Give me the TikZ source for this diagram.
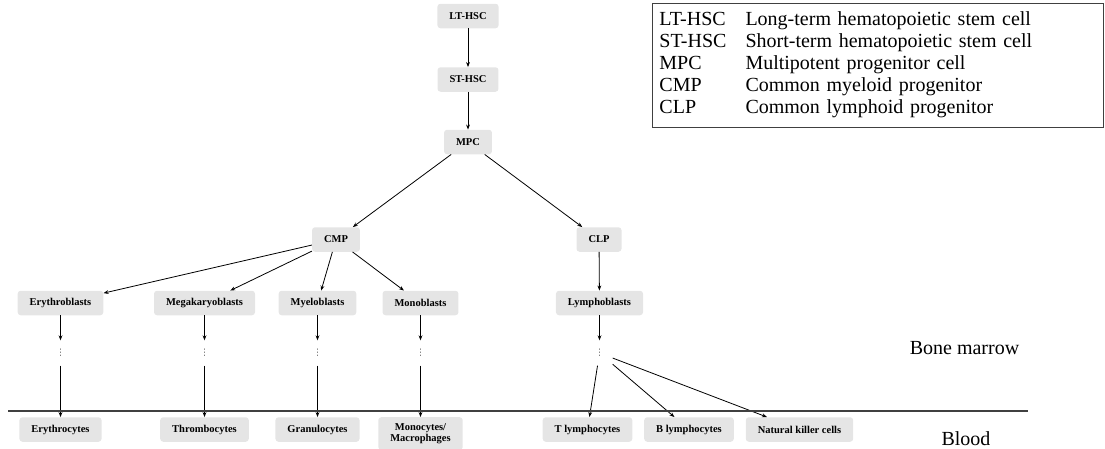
\documentclass[tikz,border=0pt]{standalone}
\usepackage{fontspec}
\setmainfont{Liberation Serif}
\newfontfamily\dejavu{DejaVu Sans}
\usetikzlibrary{arrows.meta}
\definecolor{boxgray}{RGB}{229,229,229}
\definecolor{sepline}{RGB}{64,64,64}
\definecolor{dotgray}{RGB}{90,90,90}
\newcommand{\myvdots}{{\dejavu ⋮}}
\begin{document}
\begin{tikzpicture}[x=1pt,y=-1pt,
  cell/.style={fill=boxgray,rounded corners=3pt,inner xsep=12pt,inner ysep=0pt,
    minimum height=24.5pt,font=\fontsize{10.5}{12}\selectfont\bfseries,align=center},
  dotsnode/.style={inner sep=0pt,minimum width=26pt,minimum height=25pt,
    font=\fontsize{9}{9}\selectfont,text=dotgray},
  conn/.style={draw=black,line width=0.8pt,-{Stealth[length=5pt,width=3.8pt]}},
  region/.style={font=\fontsize{20}{22}\selectfont,inner sep=0pt}]
\useasboundingbox (0,0) rectangle (1105,448);
% top chain
\node[cell] (lt) at (468,16) {LT-HSC};
\node[cell] (st) at (468,79.5) {ST-HSC};
\node[cell] (mpc) at (468,142) {MPC};
\node[cell] (cmp) at (336,239.5) {CMP};
\node[cell] (clp) at (599,239.5) {CLP};
% blasts
\node[cell] (ery) at (60.5,303) {Erythroblasts};
\node[cell] (meg) at (204.5,303) {Megakaryoblasts};
\node[cell] (mye) at (317.5,303) {Myeloblasts};
\node[cell] (mon) at (420.5,303) {Monoblasts};
\node[cell] (lym) at (599.5,303) {Lymphoblasts};
% dots
\node[dotsnode] (d1) at (60.5,353) {\myvdots};
\node[dotsnode] (d2) at (204.5,353) {\myvdots};
\node[dotsnode] (d3) at (317.5,353) {\myvdots};
\node[dotsnode] (d4) at (420.5,353) {\myvdots};
\node[dotsnode] (d5) at (599.5,353) {\myvdots};
% mature cells
\node[cell] (eryc) at (60.5,429.5) {Erythrocytes};
\node[cell] (thr) at (204.5,429.5) {Thrombocytes};
\node[cell] (gra) at (317.5,429.5) {Granulocytes};
\node[cell,anchor=north,inner ysep=6pt,font=\fontsize{10.5}{11.5}\selectfont\bfseries] (mac) at (420.5,417) {Monocytes/\\Macrophages};
\node[cell] (tly) at (587.5,429.5) {T lymphocytes};
\node[cell] (bly) at (689,429.5) {B lymphocytes};
\node[cell] (nk) at (799.5,429.5) {Natural killer cells};
% connectors
\draw[conn] (lt) -- (st);
\draw[conn] (st) -- (mpc);
\draw[conn] (mpc) -- (cmp);
\draw[conn] (mpc) -- (clp);
\draw[conn] (cmp) -- (ery);
\draw[conn] (cmp) -- (meg);
\draw[conn] (cmp) -- (mye);
\draw[conn] (cmp) -- (mon);
\draw[conn] (clp) -- (lym);
\draw[conn] (ery) -- (d1);
\draw[conn] (meg) -- (d2);
\draw[conn] (mye) -- (d3);
\draw[conn] (mon) -- (d4);
\draw[conn] (lym) -- (d5);
\draw[conn] (d1) -- (eryc);
\draw[conn] (d2) -- (thr);
\draw[conn] (d3) -- (gra);
\draw[conn] (d4) -- (mac);
\draw[conn] (d5) -- (tly);
\draw[conn] (d5) -- (bly);
\draw[conn] (d5) -- (nk);
% separator
\coordinate (hl) at (8,411);
\coordinate (hr) at (1028,411);
\draw[sepline,line width=1.1pt] (hl) -- (hr);
\node[region,anchor=base] (bm) at (964.5,354) {Bone marrow};
\node[region,anchor=base] (bl) at (966,445) {Blood};
% legend
\node[draw=sepline,line width=0.9pt,anchor=north west,inner xsep=7pt,inner ysep=7pt,
  text width=437pt,align=left,font=\fontsize{20}{22}\selectfont] (legend) at (652,3)
  {\begin{tabular}{@{}l@{\hspace{19pt}}l@{}}
   LT-HSC & Long-term hematopoietic stem cell\\
   ST-HSC & Short-term hematopoietic stem cell\\
   MPC & Multipotent progenitor cell\\
   CMP & Common myeloid progenitor\\
   CLP & Common lymphoid progenitor
  \end{tabular}};
\end{tikzpicture}
\end{document}
